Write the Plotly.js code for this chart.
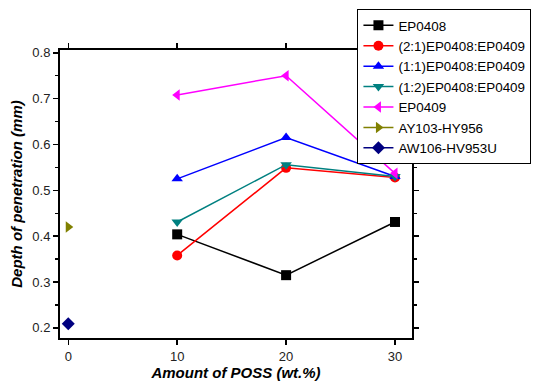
<!DOCTYPE html>
<html>
<head>
<meta charset="utf-8">
<script src="https://cdn.plot.ly/plotly-3.0.1.min.js"></script>
<style>html,body{margin:0;padding:0;background:#fff;}#chart{width:542px;height:384px;}</style>
</head>
<body>
<div id="chart"></div>
<script>
var xPoss = [10, 20, 30];
var ep0408 = [0.404, 0.315, 0.431];
var mix21 = [0.358, 0.549, 0.528];
var mix11 = [0.525, 0.615, 0.530];
var mix12 = [0.431, 0.556, 0.530];
var ep0409 = [0.708, 0.750, 0.537];
var xRef = [0];
var ay103 = [0.420];
var aw106 = [0.209];
var names = ["EP0408", "(2:1)EP0408:EP0409", "(1:1)EP0408:EP0409", "(1:2)EP0408:EP0409", "EP0409", "AY103-HY956", "AW106-HV953U"];
var colors = ["#000000", "#ff0000", "#0000ff", "#008080", "#ff00ff", "#808000", "#000080"];
var symbols = ["square", "circle", "triangle-up", "triangle-down", "triangle-left", "triangle-right", "diamond"];
var xs = [xPoss, xPoss, xPoss, xPoss, xPoss, xRef, xRef];
var ys = [ep0408, mix21, mix11, mix12, ep0409, ay103, aw106];

var traces = names.map(function(n, i) {
  return {
    x: xs[i], y: ys[i], name: n, type: "scatter", mode: "lines+markers",
    line: {color: colors[i], width: 1.5},
    marker: {symbol: symbols[i], color: colors[i], size: 10}
  };
});

var axisCommon = {
  showline: true, linecolor: "#000", linewidth: 2, mirror: "allticks",
  ticks: "outside", ticklen: 5, tickwidth: 1.5, tickcolor: "#000",
  showgrid: false, zeroline: false,
  tickfont: {family: "Arial", size: 13, color: "#222"}
};

var layout = {
  width: 542, height: 384,
  margin: {l: 60, r: 130, t: 50, b: 46, autoexpand: false},
  paper_bgcolor: "#fff", plot_bgcolor: "#fff",
  showlegend: true,
  legend: {
    x: 0.845, y: 1.142, xanchor: "left", yanchor: "top",
    bgcolor: "#fff", bordercolor: "#000", borderwidth: 1,
    font: {family: "Arial", size: 13.4, color: "#000"},
    tracegroupgap: 0
  },
  xaxis: Object.assign({}, axisCommon, {
    range: [-0.76, 31.56], tickvals: [0, 10, 20, 30],
    title: {text: "<b><i>Amount of POSS (wt.%)</i></b>", font: {family: "Arial", size: 15, color: "#000"}, standoff: 4}
  }),
  yaxis: Object.assign({}, axisCommon, {
    range: [0.178, 0.806], tickvals: [0.2, 0.3, 0.4, 0.5, 0.6, 0.7, 0.8],
    ticktext: ["0.2", "0.3", "0.4", "0.5", "0.6", "0.7", "0.8"],
    minor: {dtick: 0.05, ticks: "outside", ticklen: 3, tickcolor: "#000", tickwidth: 1.5, showgrid: false},
    title: {text: "<b><i>Depth of penetration (mm)</i></b>", font: {family: "Arial", size: 15, color: "#000"}, standoff: 6}
  })
};

Plotly.newPlot("chart", traces, layout, {displayModeBar: false, staticPlot: true});
</script>
</body>
</html>
